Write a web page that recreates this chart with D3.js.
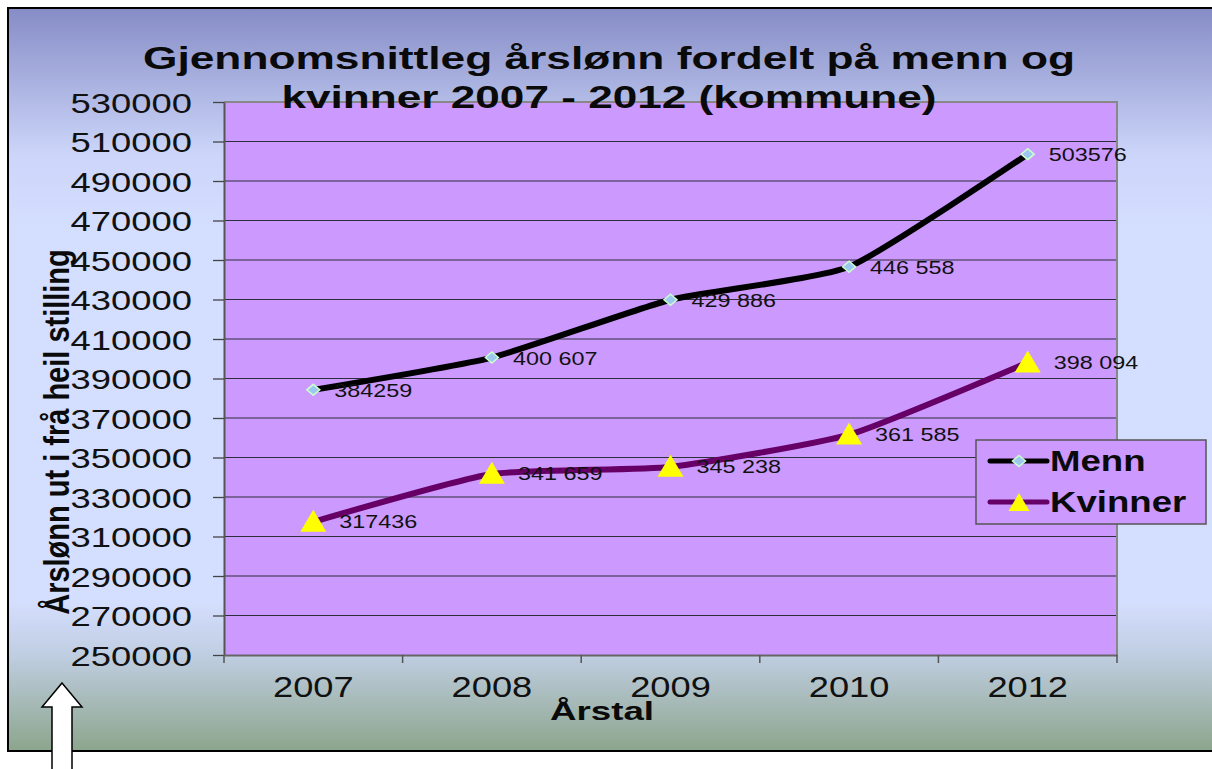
<!DOCTYPE html>
<html><head><meta charset="utf-8">
<script src="https://cdn.jsdelivr.net/npm/d3@7"></script>
<style>html,body{margin:0;padding:0;background:#fff;}svg{display:block;}</style>
</head><body>
<svg id="chart" width="1212" height="769"></svg>
<script>
const categories = ["2007", "2008", "2009", "2010", "2012"];
const menn = [384259, 400607, 429886, 446558, 503576];
const kvinner = [317436, 341659, 345238, 361585, 398094];
const mennLabels = ["384259", "400 607", "429 886", "446 558", "503576"];
const kvinnerLabels = ["317436", "341 659", "345 238", "361 585", "398 094"];
const yTicks = d3.range(250000, 530001, 20000);
const titleLines = ["Gjennomsnittleg årslønn fordelt på menn og", "kvinner 2007 - 2012 (kommune)"];
const yTitle = "Årslønn ut i frå heil stilling";
const xTitle = "Årstal";
const seriesNames = ["Menn", "Kvinner"];

const FONT = "'Liberation Sans', Arial, Helvetica, sans-serif";
const SX = 1.3;
const svg = d3.select("#chart");
const defs = svg.append("defs");
const grad = defs.append("linearGradient").attr("id", "bg").attr("x1", 0).attr("y1", 0).attr("x2", 0).attr("y2", 1);
[[0, "#868cc6"], [0.2, "#cdd6fa"], [0.3, "#d4defe"], [0.8, "#d4defe"], [0.87, "#c0cee2"], [1, "#8ca58c"]]
  .forEach(([o, c]) => grad.append("stop").attr("offset", o).attr("stop-color", c));

// frame
svg.append("rect").attr("x", 8).attr("y", 8).attr("width", 1215).attr("height", 743)
  .attr("fill", "url(#bg)").attr("stroke", "#000").attr("stroke-width", 2);

const plot = {left: 224, right: 1117, top: 102, bottom: 655};
const x = d3.scaleBand().domain(categories).range([plot.left, plot.right]).padding(0);
const y = d3.scaleLinear().domain([250000, 530000]).range([plot.bottom, plot.top]);
const cx = c => x(c) + x.bandwidth() / 2;

svg.append("rect").attr("x", plot.left).attr("y", plot.top)
  .attr("width", plot.right - plot.left).attr("height", plot.bottom - plot.top).attr("fill", "#cc99ff");

// gridlines
svg.append("g").selectAll("line").data(yTicks.filter(t => t > 250000 && t < 530000)).join("line")
  .attr("x1", plot.left).attr("x2", plot.right).attr("y1", d => y(d)).attr("y2", d => y(d))
  .attr("stroke", "#2e2e3a").attr("stroke-width", 1.2);
// border top/right
svg.append("path").attr("d", `M${plot.left},${plot.top}H${plot.right}V${plot.bottom}`)
  .attr("fill", "none").attr("stroke", "#888").attr("stroke-width", 2);

// y axis
const yAxis = svg.append("g").attr("transform", `translate(${plot.left},0)`)
  .call(d3.axisLeft(y).tickValues(yTicks).tickSize(11).tickSizeOuter(0).tickFormat(d3.format("d")));
yAxis.select(".domain").attr("stroke", "#555").attr("stroke-width", 2);
yAxis.selectAll(".tick line").attr("stroke", "#444").attr("stroke-width", 1.3);
yAxis.selectAll(".tick text").attr("x", 0).attr("dy", "0.36em")
  .attr("transform", `translate(-32,0) scale(${SX},1)`)
  .style("font-family", FONT).style("font-size", "28px").attr("fill", "#111");

// x axis
const xAxis = svg.append("g").attr("transform", `translate(0,${plot.bottom})`)
  .call(d3.axisBottom(x).tickSize(0).tickSizeOuter(0));
xAxis.select(".domain").attr("stroke", "#666").attr("stroke-width", 2);
xAxis.selectAll(".tick text").attr("y", 0).attr("dy", 0)
  .attr("transform", `translate(0,42) scale(1.25,1)`)
  .style("font-family", FONT).style("font-size", "29px").attr("fill", "#111");
const bounds = categories.map(c => x(c)).concat([plot.right]);
svg.append("g").selectAll("line").data(bounds).join("line")
  .attr("x1", d => d).attr("x2", d => d).attr("y1", plot.bottom).attr("y2", plot.bottom + 8)
  .attr("stroke", "#555").attr("stroke-width", 1.5);

// title
svg.append("g").selectAll("text").data(titleLines).join("text")
  .attr("x", 609).attr("y", (d, i) => 69 + i * 39).attr("text-anchor", "middle")
  .attr("textLength", (d, i) => i === 0 ? 932 : 655).attr("lengthAdjust", "spacingAndGlyphs")
  .style("font-family", FONT).style("font-size", "31px").style("font-weight", "bold").attr("fill", "#0a0a0a")
  .text(d => d);

// axis titles
svg.append("text").attr("transform", `translate(69,432) scale(1.2,1) rotate(-90)`)
  .attr("text-anchor", "middle").style("font-family", FONT).style("font-size", "29px").style("font-weight", "bold")
  .attr("fill", "#0a0a0a").text(yTitle);
svg.append("text").attr("x", 602).attr("y", 720).attr("text-anchor", "middle")
  .attr("textLength", 104).attr("lengthAdjust", "spacingAndGlyphs")
  .style("font-family", FONT).style("font-size", "26px").style("font-weight", "bold").attr("fill", "#0a0a0a").text(xTitle);

// lines
const line = d3.line().x(d => cx(d.c)).y(d => y(d.v)).curve(d3.curveCardinal.tension(0.5));
const mData = categories.map((c, i) => ({c, v: menn[i], l: mennLabels[i]}));
const kData = categories.map((c, i) => ({c, v: kvinner[i], l: kvinnerLabels[i]}));
svg.append("path").datum(mData).attr("d", line).attr("fill", "none").attr("stroke", "#000").attr("stroke-width", 6).attr("stroke-linejoin", "round");
svg.append("path").datum(kData).attr("d", line).attr("fill", "none").attr("stroke", "#660066").attr("stroke-width", 6).attr("stroke-linejoin", "round");

const diamond = (px, py) => `M${px},${py - 5.5}L${px + 6.5},${py}L${px},${py + 5.5}L${px - 6.5},${py}Z`;
const tri = (px, py, w, h) => `M${px},${py - h * 0.55}L${px + w / 2},${py + h * 0.45}L${px - w / 2},${py + h * 0.45}Z`;

svg.append("g").selectAll("path").data(mData).join("path")
  .attr("d", d => diamond(cx(d.c), y(d.v))).attr("fill", "#9cc8f0").attr("stroke", "#ccffcc").attr("stroke-width", 1.5);
svg.append("g").selectAll("path").data(kData).join("path")
  .attr("d", d => tri(cx(d.c), y(d.v), 26, 22)).attr("fill", "#ffff00");

// data labels
svg.append("g").selectAll("text").data(mData).join("text")
  .attr("transform", d => `translate(${cx(d.c) + 21},${y(d.v) + 7}) scale(${SX},1)`)
  .style("font-family", FONT).style("font-size", "18px").attr("fill", "#111").text(d => d.l);
svg.append("g").selectAll("text").data(kData).join("text")
  .attr("transform", d => `translate(${cx(d.c) + 26},${y(d.v) + 6}) scale(${SX},1)`)
  .style("font-family", FONT).style("font-size", "18px").attr("fill", "#111").text(d => d.l);

// legend
const lg = svg.append("g");
lg.append("rect").attr("x", 976).attr("y", 440).attr("width", 230).attr("height", 84)
  .attr("fill", "#cc99ff").attr("stroke", "#555").attr("stroke-width", 1.5);
const legendItems = [
  {name: seriesNames[0], color: "#000", ly: 461},
  {name: seriesNames[1], color: "#660066", ly: 502}
];
legendItems.forEach((it, i) => {
  lg.append("line").attr("x1", 990).attr("x2", 1047).attr("y1", it.ly).attr("y2", it.ly)
    .attr("stroke", it.color).attr("stroke-width", 5).attr("stroke-linecap", "round");
  if (i === 0) lg.append("path").attr("d", diamond(1019, it.ly)).attr("fill", "#9cc8f0").attr("stroke", "#ccffcc").attr("stroke-width", 1.5);
  else lg.append("path").attr("d", tri(1019, it.ly + 1, 21, 18)).attr("fill", "#ffff00");
  lg.append("text").attr("transform", `translate(1050,${it.ly + 10}) scale(1.22,1)`)
    .style("font-family", FONT).style("font-size", "30px").style("font-weight", "bold").attr("fill", "#0a0a0a").text(it.name);
});

// arrow
svg.append("path")
  .attr("d", "M62,683L82,707L72,707L72,772L52,772L52,707L42,707Z")
  .attr("fill", "#fff").attr("stroke", "#000").attr("stroke-width", 1.5);
</script>
</body></html>
